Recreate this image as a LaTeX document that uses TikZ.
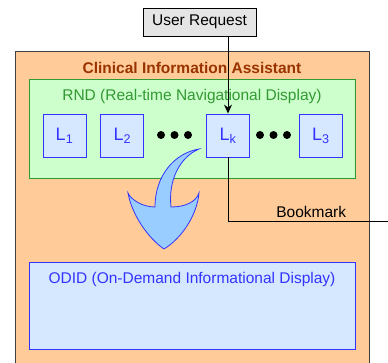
\documentclass[tikz,border=0pt]{standalone}
\usepackage{fontspec}
\setmainfont{Liberation Sans}
\usetikzlibrary{positioning,arrows.meta}
\definecolor{ciafill}{HTML}{FFCC99}
\definecolor{ciatext}{HTML}{993300}
\definecolor{rndfill}{HTML}{CCFFCC}
\definecolor{rndline}{HTML}{339933}
\definecolor{boxfill}{HTML}{D6E8FF}
\definecolor{boxline}{HTML}{3333FF}
\definecolor{arrfill}{HTML}{99CCFF}
\begin{document}
\begin{tikzpicture}[
                x=1pt, y=-1pt,
                line width=0.9pt,
                >={Stealth[length=9pt,width=8pt]},
                font=\fontsize{15.5}{18}\selectfont,
                panel/.style={rectangle, draw, inner sep=0pt, anchor=north west},
                lbox/.style={rectangle, draw=boxline, fill=boxfill, text=boxline, minimum size=43pt, inner sep=0pt, font=\fontsize{18}{20}\selectfont},
                dot/.style={circle, fill=black, inner sep=0pt, minimum size=8pt}
                ]
            \useasboundingbox (0,0) rectangle (388,362);
            % Panels
            \node[panel, draw=black!75, fill=ciafill, minimum width=354pt, minimum height=316pt] (cia) at (15,51) {};
            \node[panel, draw=rndline, fill=rndfill, minimum width=326pt, minimum height=99pt] (rnd) at (29,79) {};
            \node[panel, draw=boxline, fill=boxfill, minimum width=326pt, minimum height=87pt] (odid) at (29,262) {};
            \node[text=ciatext, font=\fontsize{15.5}{18}\selectfont\bfseries] (ciatitle) at (192,68) {Clinical Information Assistant};
            \node[text=rndline] (rndtitle) at (192,96) {RND (Real-time Navigational Display)};
            \node[text=boxline] (odidtitle) at (192,279) {ODID (On-Demand Informational Display)};
            % Nodes
            \node[rectangle, draw=black, fill=black!10, minimum width=113pt, minimum height=28pt] (req) at (199.5,22) {User Request};
            \node[lbox] (L1) at (64.5,135.5) {L\textsubscript{1}};
            \node[lbox] (L2) [right=14pt of L1] {L\textsubscript{2}};
            \node[lbox] (Lk) at (228,135.5) {L\textsubscript{k}};
            \node[lbox] (L3) [right=49pt of Lk] {L\textsubscript{3}};
            \foreach \x [count=\i] in {161,174.5,188} \node[dot] (a\i) at (\x,135) {};
            \foreach \x [count=\i] in {260,273.5,287} \node[dot] (b\i) at (\x,135) {};
            % Edges
            \coordinate (bmend) at (388,221);
            \draw[->] (req.south -| Lk.north) -- (Lk.north);
            \draw (Lk.south) |- node[pos=0.76, above] {Bookmark} (bmend);
            % Curved arrow
            \draw[draw=boxline, fill=arrfill, line width=0.8pt]
            (199,149) .. controls (175,153) and (155,175) .. (155,207)
            .. controls (143,207) and (131,200) .. (128,193)
            .. controls (132,215) and (148,238) .. (164,249)
            .. controls (182,238) and (197,215) .. (199,193)
            .. controls (196,202) and (185,207) .. (171,207)
            .. controls (168,180) and (180,157) .. (199,149) -- cycle;

            \end{tikzpicture}
\end{document}
